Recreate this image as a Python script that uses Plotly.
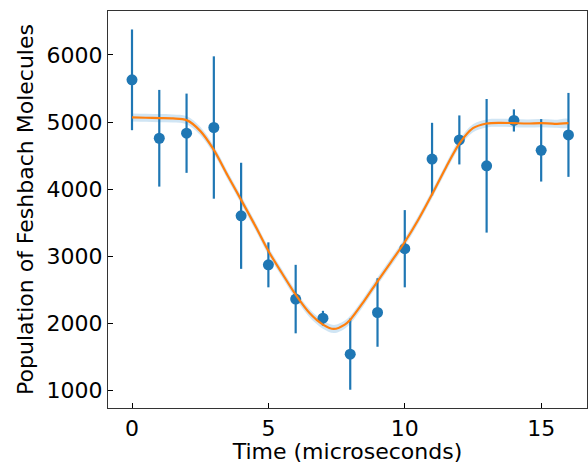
import plotly.graph_objects as go

# measured points with error bars
time_us = [0, 1, 2, 3, 4, 5, 6, 7, 8, 9, 10, 11, 12, 13, 14, 15, 16]
population = [5630, 4760, 4835, 4920, 3605, 2875, 2365, 2080, 1545, 2165, 3115, 4450, 4735, 4350, 5025, 4580, 4810]
pop_err = [750, 720, 590, 1060, 790, 335, 510, 110, 530, 510, 575, 540, 365, 995, 165, 465, 625]

# fitted curve
fit_t = [0, 0.5, 1, 1.5, 2, 2.5, 3, 3.5, 4, 4.5, 5, 5.5, 6, 6.5, 7, 7.4, 7.8, 8, 8.5, 9, 9.5,
         10, 10.5, 11, 11.5, 12, 12.5, 13, 13.5, 14, 14.5, 15, 15.5, 16]
fit_pop = [5070, 5065, 5060, 5055, 5030, 4870, 4586, 4210, 3842, 3470, 3080, 2750, 2430, 2160, 1985, 1920, 1985, 2057,
           2330, 2630, 2920, 3215, 3550, 3925, 4318, 4680, 4910, 4980, 4990, 4985, 4980, 4985, 4975, 4985]
fit_band = 60

blue = "#1f77b4"
orange = "#ff7f0e"

fig = go.Figure()

fig.add_trace(go.Scatter(
    x=fit_t + fit_t[::-1],
    y=[v + fit_band for v in fit_pop] + [v - fit_band for v in fit_pop][::-1],
    fill="toself", fillcolor="rgba(100,170,220,0.3)", line=dict(width=0, shape="spline"),
    hoverinfo="skip", showlegend=False))

fig.add_trace(go.Scatter(
    x=time_us, y=population, mode="markers",
    marker=dict(color=blue, size=11),
    error_y=dict(type="data", array=pop_err, color=blue, thickness=2.2, width=0),
    showlegend=False))

fig.add_trace(go.Scatter(
    x=fit_t, y=fit_pop, mode="lines", line=dict(color=orange, width=2.2, shape="spline", smoothing=0.8),
    showlegend=False))

axis_font = dict(family="DejaVu Sans", size=22, color="black")
fig.update_layout(
    width=588, height=464,
    margin=dict(l=108, r=1, t=11, b=56),
    plot_bgcolor="white", paper_bgcolor="white",
    font=axis_font,
    xaxis=dict(
        range=[-0.88, 16.68], tickvals=[0, 5, 10, 15], ticks="inside", ticklen=5,
        tickcolor="black", showline=True, linecolor="#333", linewidth=1.2, mirror=True,
        showgrid=False, zeroline=False, tickfont=axis_font, automargin=False,
        title=dict(text="Time (microseconds)", font=axis_font, standoff=2)),
    yaxis=dict(
        range=[743, 6655], tickvals=[1000, 2000, 3000, 4000, 5000, 6000], ticks="inside", ticklen=5,
        tickcolor="black", showline=True, linecolor="#333", linewidth=1.2, mirror=True,
        showgrid=False, zeroline=False, tickfont=axis_font, automargin=False,
        title=dict(text="Population of Feshbach Molecules", font=axis_font, standoff=6)),
)

# drop the default 8px body margin so the figure fills the window exactly
fig.write_html("out.html", config={"displayModeBar": False},
               post_script="document.body.style.margin='0';")
